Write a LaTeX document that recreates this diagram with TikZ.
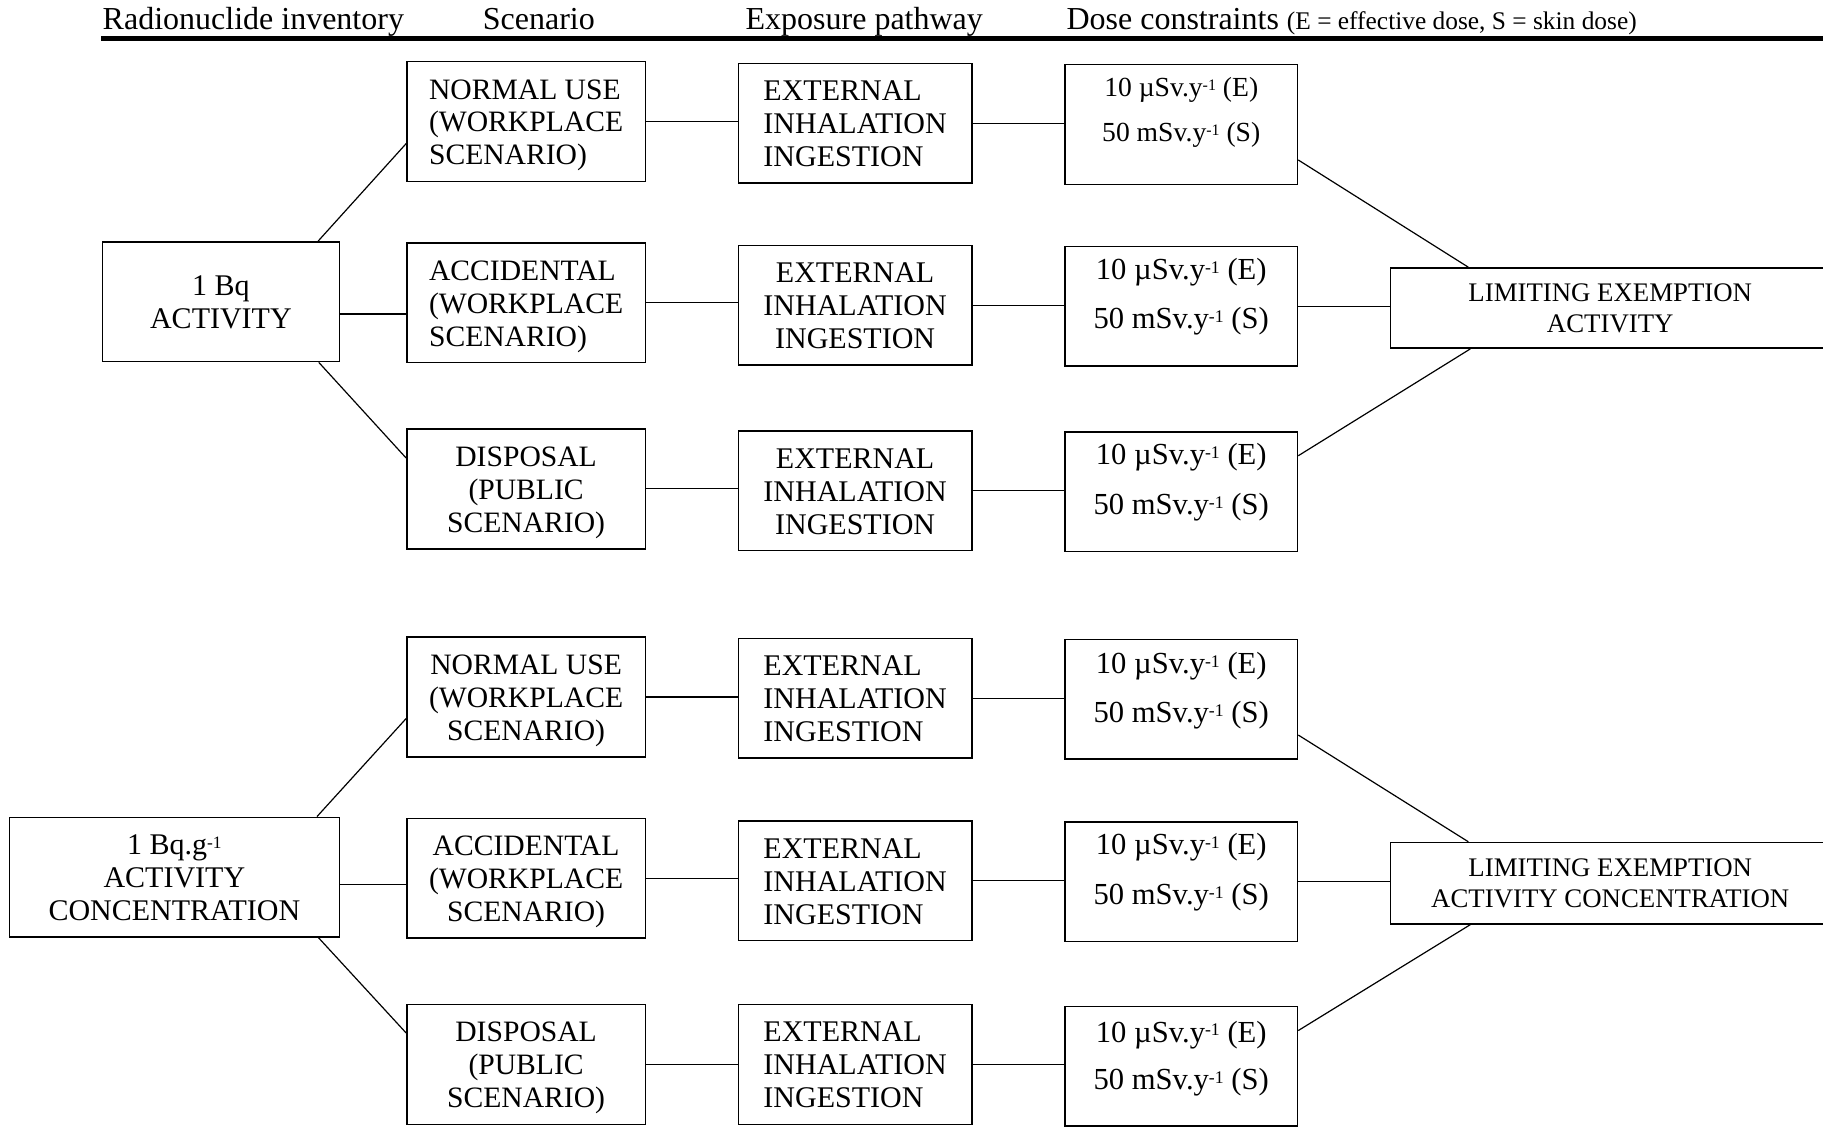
\documentclass[tikz,border=0pt]{standalone}
\usepackage{graphicx}
\usepackage{fontspec}
\setmainfont{Liberation Serif}
\def\upx{0.5813pt}
\newcommand\supone{\raisebox{0.2em}{\scalebox{0.58}{-1}}}
\newcommand\boxlines[2]{\raisebox{-1.9pt}[\height][\depth]{\begin{tabular}{@{}#1@{}}#2\end{tabular}}}
\tikzset{
  basebox/.style={draw, line width=0.75pt, inner sep=0pt, minimum height=59.87pt, align=center},
  scenbox/.style={basebox, minimum width=119.17pt, font=\fontsize{14.8}{16.4}\selectfont},
  expbox/.style={basebox, minimum width=116.84pt, font=\fontsize{15}{16.5}\selectfont},
  dosebox/.style={basebox, minimum width=116.26pt},
  dosetxt/.style={inner sep=0pt, font=\fontsize{15.3}{18}\selectfont},
  dosetxtsmall/.style={inner sep=0pt, font=\fontsize{13.8}{16}\selectfont},
  srcbox/.style={basebox, font=\fontsize{15}{16.4}\selectfont},
  limbox/.style={basebox, minimum width=219.7pt, font=\fontsize{13.4}{15.4}\selectfont},
  conn/.style={line width=0.6pt},
  headtxt/.style={anchor=base west, inner sep=0pt, font=\fontsize{16}{19}\selectfont}
}
\begin{document}
\begin{tikzpicture}[x=0.5813pt, y=-0.5813pt]
\useasboundingbox (0,0) rectangle (1568,972);
\clip (0,0) rectangle (1568,972);

% header
\node[headtxt] (h1) at (88,25) {Radionuclide inventory};
\node[headtxt] (h2) at (415,25) {Scenario};
\node[headtxt] (h3) at (641,25) {Exposure pathway};
\node[headtxt] (h4) at (917,25) {Dose constraints {\fontsize{12.7}{15}\selectfont (E = effective dose, S = skin dose)}};
\coordinate (hl) at (87,33.4);
\coordinate (hr) at (1570,33.4);
\draw[line width=2.6pt] (hl) -- (hr);

% ===== top group =====
\node[srcbox, minimum width=118.59pt] (s1) at (190,259.5) {\boxlines{c}{1 Bq\\ACTIVITY}};
\node[scenbox] (n1) at (452.5,104.5) {\boxlines{l}{NORMAL USE\\(WORKPLACE\\SCENARIO)}};
\node[scenbox] (a1) at (452.5,260.5) {\boxlines{l}{ACCIDENTAL\\(WORKPLACE\\SCENARIO)}};
\node[scenbox] (p1) at (452.5,420.5) {\boxlines{c}{DISPOSAL\\(PUBLIC\\SCENARIO)}};
\node[expbox] (e1) at (735.5,106) {\boxlines{l}{EXTERNAL\\INHALATION\\INGESTION}};
\node[expbox] (e2) at (735.5,262.5) {\boxlines{c}{EXTERNAL\\INHALATION\\INGESTION}};
\node[expbox] (e3) at (735.5,422) {\boxlines{c}{EXTERNAL\\INHALATION\\INGESTION}};
\node[dosebox] (d1) at (1016,107) {};
\node[dosebox] (d2) at (1016,263.5) {};
\node[dosebox] (d3) at (1016,423) {};
\node[dosetxtsmall] (d1a) at (1016,77) {10 µSv.y\supone{} (E)};
\node[dosetxtsmall] (d1b) at (1016,116) {50 mSv.y\supone{} (S)};
\node[dosetxt] (d2a) at (1016,234) {10 µSv.y\supone{} (E)};
\node[dosetxt] (d2b) at (1016,276) {50 mSv.y\supone{} (S)};
\node[dosetxt] (d3a) at (1016,393) {10 µSv.y\supone{} (E)};
\node[dosetxt] (d3b) at (1016,436) {50 mSv.y\supone{} (S)};
\node[limbox, minimum height=40.1pt] (L1) at (1385,265) {LIMITING EXEMPTION\\ACTIVITY};

\draw[conn] ([xshift=-19*\upx]s1.north east) -- ([yshift=-19*\upx]n1.west);
\draw[conn] ([yshift=-10.5*\upx]s1.east) -- ([yshift=-10.5*\upx]s1.east -| a1.west);
\draw[conn] ([xshift=-18.5*\upx]s1.south east) -- ([yshift=26.5*\upx]p1.west);
\draw[conn] (n1.east) -- (n1.east -| e1.west);
\draw[conn] (a1.east) -- (a1.east -| e2.west);
\draw[conn] (p1.east) -- (p1.east -| e3.west);
\draw[conn] (e1.east) -- (e1.east -| d1.west);
\draw[conn] (e2.east) -- (e2.east -| d2.west);
\draw[conn] (e3.east) -- (e3.east -| d3.west);
\draw[conn] ([yshift=-30.6*\upx]d1.east) -- ([xshift=67.6*\upx]L1.north west);
\draw[conn] (d2.east) -- (d2.east -| L1.west);
\draw[conn] ([yshift=31*\upx]d3.east) -- ([xshift=69.2*\upx]L1.south west);

% ===== bottom group =====
\node[srcbox, minimum width=165.09pt] (s2) at (150,754.5) {\boxlines{c}{1 Bq.g\supone\\ACTIVITY\\CONCENTRATION}};
\node[scenbox] (n2) at (452.5,599.5) {\boxlines{c}{NORMAL USE\\(WORKPLACE\\SCENARIO)}};
\node[scenbox] (a2) at (452.5,755.5) {\boxlines{c}{ACCIDENTAL\\(WORKPLACE\\SCENARIO)}};
\node[scenbox] (p2) at (452.5,915.5) {\boxlines{c}{DISPOSAL\\(PUBLIC\\SCENARIO)}};
\node[expbox] (e4) at (735.5,600.5) {\boxlines{l}{EXTERNAL\\INHALATION\\INGESTION}};
\node[expbox] (e5) at (735.5,757.5) {\boxlines{l}{EXTERNAL\\INHALATION\\INGESTION}};
\node[expbox] (e6) at (735.5,915.5) {\boxlines{l}{EXTERNAL\\INHALATION\\INGESTION}};
\node[dosebox] (d4) at (1016,601.5) {};
\node[dosebox] (d5) at (1016,758.5) {};
\node[dosebox] (d6) at (1016,917) {};
\node[dosetxt] (d4a) at (1016,573) {10 µSv.y\supone{} (E)};
\node[dosetxt] (d4b) at (1016,615) {50 mSv.y\supone{} (S)};
\node[dosetxt] (d5a) at (1016,729) {10 µSv.y\supone{} (E)};
\node[dosetxt] (d5b) at (1016,772) {50 mSv.y\supone{} (S)};
\node[dosetxt] (d6a) at (1016,890) {10 µSv.y\supone{} (E)};
\node[dosetxt] (d6b) at (1016,931) {50 mSv.y\supone{} (S)};
\node[limbox, minimum height=40.7pt] (L2) at (1385,759.7) {LIMITING EXEMPTION\\ACTIVITY CONCENTRATION};

\draw[conn] ([xshift=-20*\upx]s2.north east) -- ([yshift=-18.5*\upx]n2.west);
\draw[conn] ([yshift=-6*\upx]s2.east) -- ([yshift=-6*\upx]s2.east -| a2.west);
\draw[conn] ([xshift=-18.6*\upx]s2.south east) -- ([yshift=27*\upx]p2.west);
\draw[conn] (n2.east) -- (n2.east -| e4.west);
\draw[conn] (a2.east) -- (a2.east -| e5.west);
\draw[conn] (p2.east) -- (p2.east -| e6.west);
\draw[conn] (e4.east) -- (e4.east -| d4.west);
\draw[conn] (e5.east) -- (e5.east -| d5.west);
\draw[conn] (e6.east) -- (e6.east -| d6.west);
\draw[conn] ([yshift=-30.7*\upx]d4.east) -- ([xshift=67.6*\upx]L2.north west);
\draw[conn] (d5.east) -- (d5.east -| L2.west);
\draw[conn] ([yshift=30.6*\upx]d6.east) -- ([xshift=69.2*\upx]L2.south west);
\end{tikzpicture}
\end{document}
